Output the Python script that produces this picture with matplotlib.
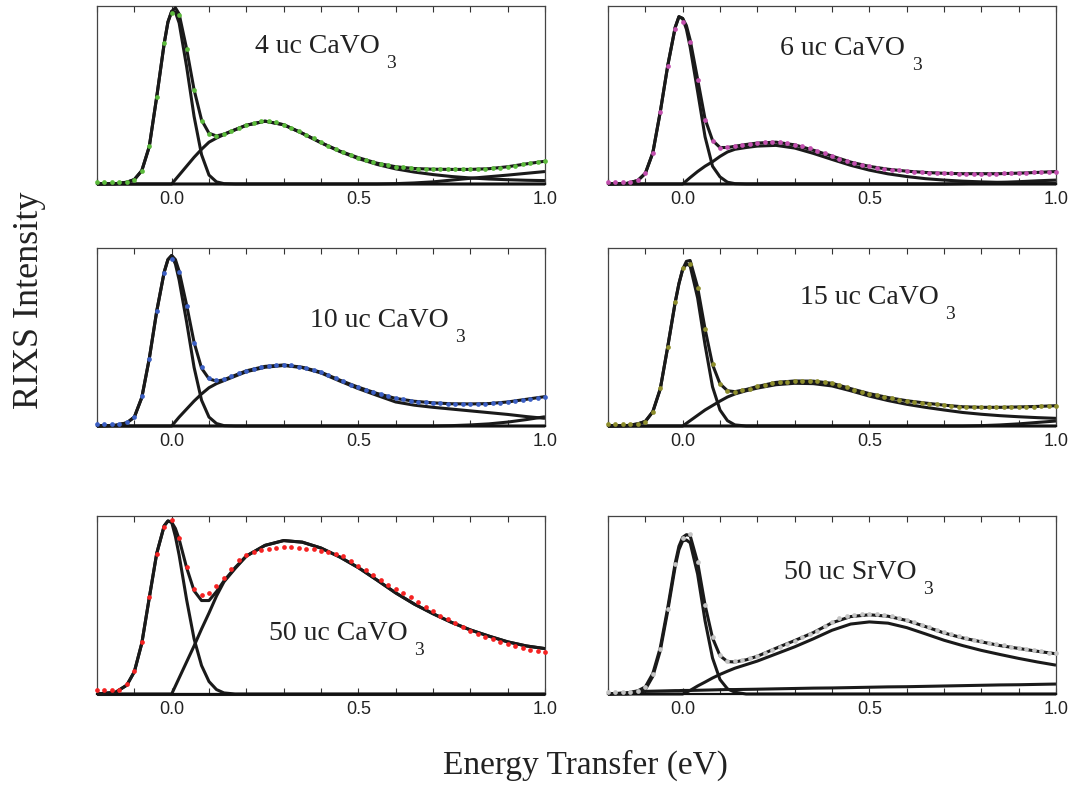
#!/usr/bin/env python3
"""RIXS spectra of CaVO3 / SrVO3 films with fit components (6 panels)."""

import matplotlib
matplotlib.use("Agg")
import matplotlib.pyplot as plt
from matplotlib.ticker import FixedLocator, NullFormatter

# energy axis of the measured points (eV)
DOT_X = [-0.20, -0.18, -0.16, -0.14, -0.12, -0.10, -0.08, -0.06, -0.04, -0.02,
         0.00, 0.02, 0.04, 0.06, 0.08, 0.10, 0.12, 0.14, 0.16, 0.18,
         0.20, 0.22, 0.24, 0.26, 0.28, 0.30, 0.32, 0.34, 0.36, 0.38,
         0.40, 0.42, 0.44, 0.46, 0.48, 0.50, 0.52, 0.54, 0.56, 0.58,
         0.60, 0.62, 0.64, 0.66, 0.68, 0.70, 0.72, 0.74, 0.76, 0.78,
         0.80, 0.82, 0.84, 0.86, 0.88, 0.90, 0.92, 0.94, 0.96, 0.98,
         1.00]

# energy axis of the fit curves (eV)
FIT_X = [-0.20, -0.15, -0.12, -0.10, -0.08, -0.06, -0.04, -0.02, -0.01,
         0.00, 0.01, 0.02, 0.04, 0.06, 0.08, 0.10, 0.12, 0.14,
         0.17, 0.20, 0.25, 0.30, 0.35, 0.40, 0.45, 0.50, 0.55,
         0.60, 0.65, 0.70, 0.75, 0.80, 0.85, 0.90, 0.95, 1.00]

ZEROS_9 = [0.0] * 9

# ---- 4 uc CaVO3 ----
DOTS_4UC = [0.01, 0.01, 0.01, 0.01, 0.012, 0.022, 0.075, 0.215, 0.49, 0.79,
            0.96, 0.95, 0.76, 0.53, 0.355, 0.28, 0.27, 0.28, 0.298, 0.315,
            0.332, 0.344, 0.352, 0.353, 0.346, 0.333, 0.316, 0.297, 0.277, 0.256,
            0.234, 0.215, 0.196, 0.178, 0.162, 0.148, 0.135, 0.123, 0.113, 0.105,
            0.098, 0.093, 0.089, 0.086, 0.084, 0.083, 0.083, 0.083, 0.083, 0.083,
            0.083, 0.083, 0.085, 0.088, 0.092, 0.097, 0.103, 0.11, 0.116, 0.122,
            0.128]
FIT_4UC = [0.0, 0.002, 0.01, 0.025, 0.075, 0.21, 0.49, 0.79, 0.91,
           0.97, 0.99, 0.955, 0.76, 0.53, 0.36, 0.285, 0.27, 0.28,
           0.305, 0.33, 0.353, 0.333, 0.285, 0.232, 0.185, 0.148, 0.117,
           0.097, 0.087, 0.083, 0.082, 0.082, 0.086, 0.097, 0.113, 0.128]
ELASTIC_4UC = [0.0, 0.002, 0.01, 0.025, 0.075, 0.21, 0.49, 0.79, 0.91,
               0.97, 0.965, 0.905, 0.66, 0.38, 0.165, 0.05, 0.012, 0.002,
               0, 0, 0, 0, 0, 0, 0, 0, 0,
               0, 0, 0, 0, 0, 0, 0, 0, 0]
BROAD_4UC = ZEROS_9 + [0.0, 0.025, 0.05, 0.10, 0.15, 0.195, 0.235, 0.258, 0.278,
                       0.305, 0.33, 0.353, 0.333, 0.285, 0.232, 0.183, 0.143, 0.11,
                       0.085, 0.067, 0.053, 0.042, 0.034, 0.028, 0.024, 0.021, 0.019]
TAIL_4UC = [0.0] * 27 + [0.002, 0.006, 0.012, 0.022, 0.032, 0.041, 0.05, 0.06, 0.07]

# ---- 6 uc CaVO3 ----
DOTS_6UC = [0.012, 0.012, 0.012, 0.013, 0.02, 0.062, 0.175, 0.405, 0.662, 0.87,
            0.91, 0.796, 0.585, 0.361, 0.244, 0.204, 0.207, 0.213, 0.219, 0.225,
            0.23, 0.234, 0.235, 0.234, 0.229, 0.221, 0.211, 0.2, 0.186, 0.172,
            0.157, 0.143, 0.13, 0.118, 0.106, 0.099, 0.092, 0.086, 0.081, 0.076,
            0.072, 0.069, 0.066, 0.064, 0.061, 0.06, 0.059, 0.058, 0.058, 0.058,
            0.058, 0.058, 0.058, 0.059, 0.06, 0.061, 0.063, 0.065, 0.066, 0.068,
            0.07]
FIT_6UC = [0.0, 0.003, 0.02, 0.06, 0.175, 0.405, 0.665, 0.88, 0.94,
           0.93, 0.89, 0.81, 0.59, 0.365, 0.245, 0.205, 0.205, 0.212,
           0.222, 0.23, 0.235, 0.22, 0.19, 0.157, 0.123, 0.099, 0.083,
           0.072, 0.065, 0.06, 0.058, 0.058, 0.058, 0.061, 0.065, 0.07]
ELASTIC_6UC = [0.0, 0.003, 0.02, 0.06, 0.175, 0.405, 0.665, 0.88, 0.94,
               0.93, 0.87, 0.77, 0.52, 0.265, 0.10, 0.04, 0.01, 0.002,
               0, 0, 0, 0, 0, 0, 0, 0, 0,
               0, 0, 0, 0, 0, 0, 0, 0, 0]
BROAD_6UC = ZEROS_9 + [0.0, 0.018, 0.036, 0.07, 0.10, 0.125, 0.155, 0.18, 0.195,
                       0.205, 0.213, 0.217, 0.202, 0.172, 0.138, 0.105, 0.078, 0.057,
                       0.042, 0.03, 0.022, 0.016, 0.012, 0.009, 0.007, 0.005, 0.004]
TAIL_6UC = [0.0] * 30 + [0.002, 0.005, 0.009, 0.013, 0.018, 0.022]

# ---- 10 uc CaVO3 ----
DOTS_10UC = [0.01, 0.01, 0.01, 0.012, 0.02, 0.05, 0.166, 0.379, 0.645, 0.861,
             0.936, 0.867, 0.675, 0.466, 0.333, 0.272, 0.256, 0.264, 0.28, 0.295,
             0.308, 0.32, 0.33, 0.336, 0.341, 0.342, 0.34, 0.334, 0.325, 0.316,
             0.305, 0.288, 0.27, 0.251, 0.233, 0.218, 0.204, 0.19, 0.177, 0.166,
             0.157, 0.149, 0.142, 0.137, 0.133, 0.13, 0.128, 0.126, 0.124, 0.124,
             0.124, 0.124, 0.125, 0.127, 0.131, 0.135, 0.141, 0.147, 0.153, 0.158,
             0.163]
FIT_10UC = [0.0, 0.004, 0.018, 0.05, 0.16, 0.378, 0.645, 0.865, 0.935,
            0.958, 0.935, 0.87, 0.68, 0.47, 0.325, 0.265, 0.252, 0.26,
            0.285, 0.31, 0.335, 0.343, 0.33, 0.302, 0.258, 0.218, 0.183,
            0.155, 0.139, 0.13, 0.125, 0.124, 0.126, 0.135, 0.15, 0.165]
ELASTIC_10UC = [0.0, 0.004, 0.018, 0.05, 0.16, 0.378, 0.645, 0.865, 0.935,
                0.958, 0.91, 0.82, 0.585, 0.33, 0.145, 0.05, 0.014, 0.002,
                0, 0, 0, 0, 0, 0, 0, 0, 0,
                0, 0, 0, 0, 0, 0, 0, 0, 0]
BROAD_10UC = ZEROS_9 + [0.0, 0.025, 0.05, 0.095, 0.14, 0.18, 0.215, 0.238, 0.255,
                        0.28, 0.305, 0.33, 0.34, 0.328, 0.298, 0.253, 0.21, 0.172,
                        0.135, 0.117, 0.105, 0.095, 0.085, 0.075, 0.065, 0.053, 0.043]
TAIL_10UC = [0.0] * 30 + [0.002, 0.006, 0.012, 0.022, 0.036, 0.052]

# ---- 15 uc CaVO3 ----
DOTS_15UC = [0.01, 0.01, 0.01, 0.01, 0.013, 0.025, 0.08, 0.211, 0.444, 0.696,
             0.886, 0.909, 0.774, 0.545, 0.346, 0.235, 0.198, 0.193, 0.2, 0.21,
             0.222, 0.233, 0.242, 0.247, 0.25, 0.253, 0.254, 0.253, 0.251, 0.248,
             0.24, 0.231, 0.217, 0.203, 0.191, 0.182, 0.173, 0.165, 0.156, 0.148,
             0.142, 0.137, 0.132, 0.126, 0.121, 0.117, 0.112, 0.109, 0.107, 0.106,
             0.105, 0.105, 0.105, 0.105, 0.106, 0.107, 0.108, 0.109, 0.11, 0.112,
             0.114]
FIT_15UC = [0.0, 0.002, 0.012, 0.026, 0.08, 0.208, 0.445, 0.695, 0.80,
            0.88, 0.925, 0.93, 0.78, 0.545, 0.345, 0.237, 0.198, 0.193,
            0.205, 0.222, 0.245, 0.253, 0.252, 0.24, 0.21, 0.182, 0.16,
            0.142, 0.129, 0.117, 0.108, 0.105, 0.105, 0.107, 0.11, 0.114]
ELASTIC_15UC = [0.0, 0.002, 0.012, 0.026, 0.08, 0.208, 0.445, 0.695, 0.80,
                0.88, 0.91, 0.90, 0.72, 0.455, 0.22, 0.09, 0.03, 0.006,
                0, 0, 0, 0, 0, 0, 0, 0, 0,
                0, 0, 0, 0, 0, 0, 0, 0, 0]
BROAD_15UC = ZEROS_9 + [0.0, 0.015, 0.03, 0.06, 0.09, 0.115, 0.14, 0.163, 0.18,
                        0.198, 0.213, 0.232, 0.24, 0.238, 0.225, 0.198, 0.168, 0.143,
                        0.122, 0.105, 0.09, 0.076, 0.066, 0.058, 0.052, 0.047, 0.043]
TAIL_15UC = [0.0] * 31 + [0.002, 0.006, 0.012, 0.02, 0.028]

# ---- 50 uc CaVO3 ----
DOTS_50UC = [0.022, 0.022, 0.022, 0.025, 0.055, 0.13, 0.29, 0.543, 0.789, 0.941,
             0.976, 0.879, 0.715, 0.592, 0.554, 0.565, 0.604, 0.652, 0.703, 0.754,
             0.782, 0.798, 0.81, 0.817, 0.822, 0.825, 0.824, 0.821, 0.817, 0.813,
             0.806, 0.798, 0.789, 0.773, 0.747, 0.72, 0.695, 0.67, 0.643, 0.615,
             0.59, 0.568, 0.545, 0.518, 0.49, 0.464, 0.441, 0.419, 0.397, 0.378,
             0.356, 0.338, 0.322, 0.307, 0.292, 0.281, 0.271, 0.257, 0.247, 0.241,
             0.235]
FIT_50UC = [0.0, 0.01, 0.05, 0.125, 0.285, 0.54, 0.79, 0.945, 0.972,
            0.965, 0.93, 0.87, 0.71, 0.58, 0.525, 0.525, 0.575, 0.635,
            0.71, 0.775, 0.835, 0.862, 0.853, 0.82, 0.77, 0.71, 0.64,
            0.568, 0.505, 0.451, 0.402, 0.36, 0.325, 0.293, 0.27, 0.255]
ELASTIC_50UC = [0.0, 0.01, 0.05, 0.125, 0.285, 0.54, 0.79, 0.945, 0.972,
                0.965, 0.885, 0.78, 0.53, 0.31, 0.16, 0.07, 0.025, 0.006,
                0, 0, 0, 0, 0, 0, 0, 0, 0,
                0, 0, 0, 0, 0, 0, 0, 0, 0]
BROAD_50UC = ZEROS_9 + [0.0, 0.045, 0.09, 0.18, 0.27, 0.365, 0.455, 0.55, 0.63,
                        0.705, 0.775, 0.835, 0.862, 0.853, 0.82, 0.77, 0.71, 0.64,
                        0.568, 0.505, 0.451, 0.402, 0.36, 0.325, 0.293, 0.27, 0.255]
TAIL_50UC = [0.0] * 36

# ---- 50 uc SrVO3 ----
DOTS_SVO = [0.013, 0.013, 0.013, 0.014, 0.018, 0.04, 0.115, 0.255, 0.48, 0.73,
            0.875, 0.9, 0.74, 0.5, 0.32, 0.22, 0.185, 0.183, 0.19, 0.2,
            0.215, 0.232, 0.248, 0.265, 0.283, 0.30, 0.318, 0.336, 0.355, 0.38,
            0.405, 0.425, 0.437, 0.444, 0.448, 0.45, 0.449, 0.444, 0.436, 0.427,
            0.417, 0.403, 0.39, 0.376, 0.362, 0.348, 0.336, 0.325, 0.316, 0.306,
            0.297, 0.289, 0.281, 0.273, 0.266, 0.259, 0.253, 0.246, 0.239, 0.233,
            0.228]
FIT_SVO = [0.0, 0.006, 0.018, 0.04, 0.115, 0.26, 0.485, 0.735, 0.83,
           0.88, 0.895, 0.89, 0.74, 0.50, 0.315, 0.215, 0.182, 0.18,
           0.192, 0.212, 0.257, 0.30, 0.345, 0.40, 0.435, 0.445, 0.437,
           0.413, 0.379, 0.343, 0.315, 0.293, 0.272, 0.256, 0.24, 0.226]
ELASTIC_SVO = [0.0, 0.0, 0.006, 0.025, 0.099, 0.243, 0.467, 0.716, 0.811,
               0.86, 0.865, 0.85, 0.674, 0.411, 0.202, 0.081, 0.029, 0.01,
               0, 0, 0, 0, 0, 0, 0, 0, 0,
               0, 0, 0, 0, 0, 0, 0, 0, 0]
BROAD_SVO = ZEROS_9 + [0.0, 0.01, 0.02, 0.045, 0.067, 0.09, 0.11, 0.128, 0.145,
                       0.165, 0.185, 0.225, 0.265, 0.31, 0.358, 0.393, 0.405, 0.398,
                       0.373, 0.338, 0.302, 0.272, 0.245, 0.222, 0.2, 0.18, 0.162]
TAIL_SVO = [0.0, 0.006, 0.012, 0.015, 0.016, 0.017, 0.018, 0.019, 0.019,
            0.02, 0.02, 0.02, 0.021, 0.022, 0.023, 0.024, 0.025, 0.025,
            0.026, 0.027, 0.029, 0.031, 0.033, 0.034, 0.036, 0.038, 0.04,
            0.041, 0.043, 0.045, 0.047, 0.049, 0.051, 0.052, 0.054, 0.056]

LABELS = ["4 uc CaVO", "6 uc CaVO", "10 uc CaVO", "15 uc CaVO", "50 uc CaVO", "50 uc SrVO"]
DOT_COLORS = ["#5cbb3c", "#c24fae", "#3b5fc4", "#8e8e2c", "#f52222", "#c4c4c4"]

PANELS = [
    (DOTS_4UC, FIT_4UC, ELASTIC_4UC, BROAD_4UC, TAIL_4UC),
    (DOTS_6UC, FIT_6UC, ELASTIC_6UC, BROAD_6UC, TAIL_6UC),
    (DOTS_10UC, FIT_10UC, ELASTIC_10UC, BROAD_10UC, TAIL_10UC),
    (DOTS_15UC, FIT_15UC, ELASTIC_15UC, BROAD_15UC, TAIL_15UC),
    (DOTS_50UC, FIT_50UC, ELASTIC_50UC, BROAD_50UC, TAIL_50UC),
    (DOTS_SVO, FIT_SVO, ELASTIC_SVO, BROAD_SVO, TAIL_SVO),
]

# label anchor (axes fraction, left / vertical centre)
LABEL_POS = [(0.352, 0.77), (0.385, 0.76), (0.475, 0.59), (0.428, 0.72), (0.383, 0.34), (0.393, 0.68)]

SERIF = ["Liberation Serif", "DejaVu Serif"]
SANS = ["Liberation Sans", "DejaVu Sans"]

W, H = 1077, 787
fig = plt.figure(figsize=(W / 100, H / 100), dpi=100)

col_left = [97 / W, 608 / W]
row_bottom = [1 - 184 / H, 1 - 426 / H, 1 - 694 / H]
ax_w = 448 / W
ax_h = 178 / H

line_kw = dict(color="#1a1a1a", lw=2.2, solid_capstyle="butt")

for i, (dots, fit, elastic, broad, tail) in enumerate(PANELS):
    r, c = divmod(i, 2)
    ax = fig.add_axes([col_left[c], row_bottom[r], ax_w, ax_h])

    ax.plot(FIT_X, tail, clip_on=False, zorder=2, **line_kw)
    ax.plot(FIT_X, broad, clip_on=False, zorder=2, **line_kw)
    ax.plot(FIT_X, elastic, clip_on=False, zorder=2, **line_kw)
    ax.plot(FIT_X, fit, clip_on=False, zorder=3, **line_kw)
    ax.plot(DOT_X, dots, "o", ms=3.4, mfc=DOT_COLORS[i], mec="none", zorder=4, clip_on=False)

    ax.set_xlim(-0.2, 1.0)
    ax.set_ylim(0, 1.0)
    ax.set_yticks([])
    ax.xaxis.set_major_locator(FixedLocator([0.0, 0.5, 1.0]))
    ax.xaxis.set_minor_locator(FixedLocator([-0.2, -0.1, 0.1, 0.2, 0.3, 0.4, 0.6, 0.7, 0.8, 0.9]))
    ax.xaxis.set_minor_formatter(NullFormatter())
    ax.set_xticklabels(["0.0", "0.5", "1.0"], family=SANS, fontsize=13, color="#222")
    ax.tick_params(axis="x", which="both", direction="in", top=True, length=4,
                   width=0.8, color="#333", pad=5)
    for side, spine in ax.spines.items():
        spine.set_color("#444")
        spine.set_linewidth(0.9)
    ax.spines["bottom"].set_color("#111")
    ax.spines["bottom"].set_linewidth(1.6)

    lx, ly = LABEL_POS[i]
    t = ax.text(lx, ly, LABELS[i], transform=ax.transAxes, family=SERIF, fontsize=20,
                ha="left", va="center", color="#222")
    ax.annotate("3", xy=(1.0, 0.0), xycoords=t, xytext=(5, -3), textcoords="offset points",
                family=SERIF, fontsize=14, ha="left", va="center", color="#222")

fig.text(30 / W, 1 - 300 / H, "RIXS Intensity", rotation=90, family=SERIF, fontsize=26,
         ha="center", va="center", color="#222")
fig.text(585 / W, 1 - 765 / H, "Energy Transfer (eV)", family=SERIF, fontsize=24,
         ha="center", va="center", color="#222")

fig.savefig("out.png", dpi=100)
